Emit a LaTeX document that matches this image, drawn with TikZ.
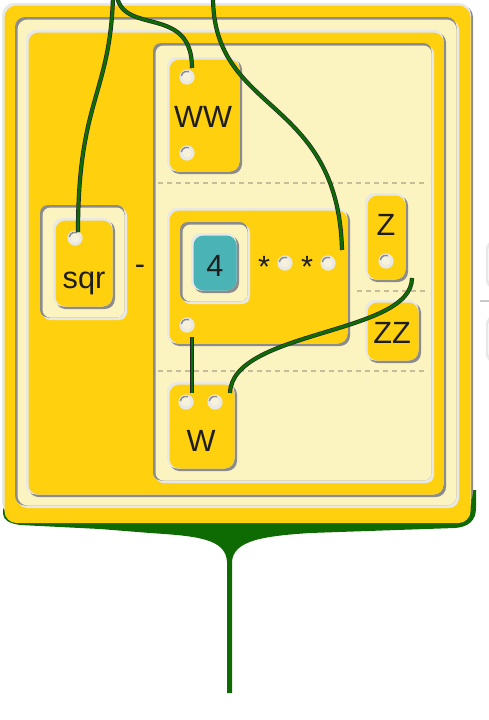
\documentclass[tikz,border=0pt]{standalone}
\usepackage{fontspec}
\setmainfont{Liberation Sans}
\definecolor{ylw}{HTML}{FFD00E}
\definecolor{lylw}{HTML}{FBF3C0}
\definecolor{lgrey}{HTML}{E8E8E8}
\definecolor{sgrey}{HTML}{8C8C8C}
\definecolor{teal4}{HTML}{4AB3B5}
\definecolor{wgreen}{HTML}{0E6C06}
\definecolor{bgreen}{HTML}{0E6B04}
\definecolor{dashc}{HTML}{C5BD9A}
\definecolor{portin}{HTML}{F6F1DA}
\definecolor{txt}{HTML}{1E1E1E}
\newcommand\boxo[6]{%
  \fill[sgrey,rounded corners=#6pt] ({#1+2.5},{#2+2.5}) rectangle (#3,#4);
  \fill[lgrey,rounded corners=#6pt] (#1,#2) rectangle ({#3-2.5},{#4-2.5});
  \fill[#5,rounded corners=#6pt] ({#1+2.5},{#2+2.5}) rectangle ({#3-2.5},{#4-2.5});}
\newcommand\boxi[6]{%
  \fill[lgrey,rounded corners=#6pt] ({#1+2.5},{#2+2.5}) rectangle (#3,#4);
  \fill[sgrey,rounded corners=#6pt] (#1,#2) rectangle ({#3-2.5},{#4-2.5});
  \fill[#5,rounded corners=#6pt] ({#1+2.5},{#2+2.5}) rectangle ({#3-2.5},{#4-2.5});}
\newcommand\portat[3]{%
  \fill[lgrey] (#2,#3) circle[radius=7.6];
  \draw[sgrey,line width=1.5pt] ([shift={(190:5.8)}]#2,#3) arc[start angle=190,end angle=290,radius=5.8];
  \fill[portin] (#2,#3) circle[radius=4.6];
  \coordinate (#1) at (#2,#3);}
\tikzset{
  lbl/.style={inner sep=0pt,text=txt,font=\fontsize{30.7}{36}\selectfont,anchor=base},
  sepline/.style={draw=dashc,line width=1.4pt,dash pattern=on 5pt off 4pt},
  wire/.style={draw=black!85,double=wgreen,double distance=2.8pt,line width=0.7pt}
}
\begin{document}
\begin{tikzpicture}[x=1pt,y=-1pt]
\useasboundingbox (0,0) rectangle (488,720);
% green bottom / stem
\fill[bgreen] (3,490) -- (3,514) .. controls (4,520) and (8,523) .. (20,525)
  -- (100,529) -- (150,533) .. controls (195,536) and (226,538) .. (227,562)
  -- (227,693) -- (232,693) -- (232,562) .. controls (233,540) and (265,536) .. (310,533)
  -- (455,528) .. controls (468,527) and (476,521) .. (476,508) -- (476,490) -- cycle;
% outer box
\fill[sgrey,rounded corners=12pt] (5,5) rectangle (473,505);
\fill[lgrey,rounded corners=12pt] (2,3) rectangle (471,515);
\fill[ylw,rounded corners=12pt] (4.5,5.5) rectangle (470.5,523);
% nested frames
\boxi{15}{17}{459}{508}{lylw}{10}
\boxo{26}{30}{446}{497}{ylw}{10}
\boxi{153}{43}{434}{483}{lylw}{8}
% row separators
\draw[sepline] (158,183) -- (428,183);
\draw[sepline] (158,371) -- (428,371);
\draw[sepline] (357,291) -- (428,291);
% WW
\boxo{167}{57}{242}{174}{ylw}{10}
\node[lbl] (tWW) at (203,127) {WW};
\portat{pWWa}{187}{77}
\portat{pWWb}{187}{153}
% sqr
\boxi{40}{205}{127}{320}{lylw}{8}
\boxo{53}{218}{115}{309}{ylw}{10}
\portat{psqr}{75}{238}
\node[lbl] (tsqr) at (84,288) {sqr};
\node[lbl] (tminus) at (140,274) {-};
% product block
\boxo{167}{208}{350}{346}{ylw}{10}
\boxi{180}{222}{250}{304}{lylw}{8}
\boxo{191}{233}{239}{293}{teal4}{10}
\node[lbl] (tfour) at (215,276) {4};
\node[lbl] (tstA) at (264,277) {*};
\node[lbl] (tstB) at (307,277) {*};
\portat{pm1}{285}{263}
\portat{pm2}{328}{263}
\portat{pmout}{187}{325}
% Z and ZZ
\boxo{365}{193}{408}{282}{ylw}{10}
\node[lbl] (tZ) at (386,235) {Z};
\portat{pZ}{386}{261}
\boxo{365}{300}{421}{363}{ylw}{10}
\node[lbl] (tZZ) at (392,343) {ZZ};
% W
\boxo{167}{382}{237}{471}{ylw}{10}
\portat{pWa}{186}{402}
\portat{pWb}{215}{402}
\node[lbl] (tW) at (201,451) {W};
% partial shapes at right edge
\draw[lgrey,line width=2.5pt,rounded corners=9pt] (520,241) -- (487,241) -- (487,288) -- (520,288);
\draw[lgrey,line width=2.5pt,rounded corners=9pt] (520,316) -- (487,316) -- (487,362) -- (520,362);
\draw[lgrey!70!gray,line width=1.5pt] (480,301) -- (492,301);
% wire end points
\coordinate (in1) at (113,-3);
\coordinate (in2) at (117,-3);
\coordinate (in3) at (213,-3);
\coordinate (e1) at (78,232);
\coordinate (e2) at (192,68);
\coordinate (e3) at (342,250);
\coordinate (e4a) at (192,337);
\coordinate (e4b) at (192,393);
\coordinate (e5a) at (412,278);
\coordinate (e5b) at (230,393);
% wires
\draw[wire] (in1) .. controls (110,95) and (78,100) .. (e1);
\draw[wire] (in2) .. controls (125,35) and (192,5) .. (e2);
\draw[wire] (in3) .. controls (213,115) and (338,95) .. (e3);
\draw[wire] (e4a) -- (e4b);
\draw[wire] (e5a) .. controls (412,335) and (232,330) .. (e5b);
\end{tikzpicture}
\end{document}
